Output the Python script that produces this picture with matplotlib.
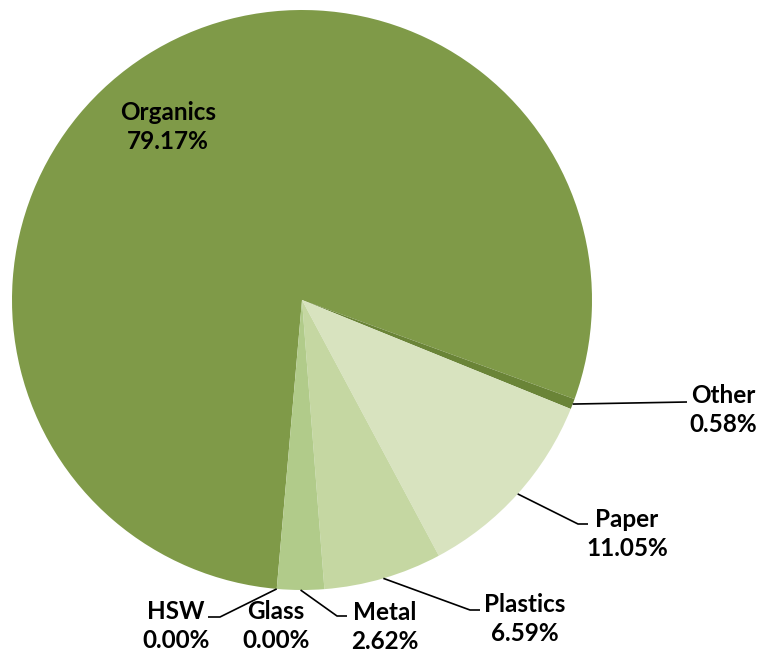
import numpy as np
import matplotlib
matplotlib.use("Agg")
import matplotlib.pyplot as plt

# waste composition by material, percent of total
materials = ["Organics", "Other", "Paper", "Plastics", "Metal", "Glass", "HSW"]
shares = [79.17, 0.58, 11.05, 6.59, 2.62, 0.00, 0.00]
colors = ["#7F9A48", "#6A8437", "#D8E3BF", "#C5D7A2", "#B1CB8A", "#A9C47F", "#9DBA72"]

W, H = 759, 655
CX, CY, R = 302, 300, 290
START = 185  # degrees clockwise from 12 o'clock where the first slice begins

# label centres and leader line bends, pixel coords from the top-left corner
label_pos = {
    "Organics": (168, 127),
    "Other": (723, 410),
    "Paper": (627, 534),
    "Plastics": (525, 619),
    "Metal": (385, 627),
    "Glass": (276, 626),
    "HSW": (176, 626),
}
leaders = {
    "Other": [(687, 402)],
    "Paper": [(578, 524), (588, 524)],
    "Plastics": [(470, 610), (480, 610)],
    "Metal": [(337, 616), (347, 616)],
    "HSW": [(220, 617), (208, 617)],
}


def px(x, y):
    return x, H - y


fig = plt.figure(figsize=(W / 100, H / 100), dpi=100)
ax = fig.add_axes([0, 0, 1, 1])

ax.pie(shares, colors=colors, startangle=90 - START, counterclock=False,
       center=px(CX, CY), radius=R,
       wedgeprops=dict(linewidth=0))
ax.set_xlim(0, W)
ax.set_ylim(0, H)
ax.set_aspect("equal")
ax.axis("off")

# slice midpoints, clockwise from the top
edges = START + np.concatenate([[0], np.cumsum(shares)]) / sum(shares) * 360
mids = (edges[:-1] + edges[1:]) / 2

for name, share, mid in zip(materials, shares, mids):
    if name in leaders:
        a = np.radians(mid)
        x0, y0 = CX + R * np.sin(a), CY - R * np.cos(a)
        pts = [(x0, y0)] + leaders[name]
        xs, ys = zip(*[px(x, y) for x, y in pts])
        ax.plot(xs, ys, color="black", lw=1.2, solid_capstyle="butt")
    tx, ty = px(*label_pos[name])
    ax.text(tx, ty, f"{name}\n{share:.2f}%", ha="center", va="center",
            multialignment="center", fontsize=17.5, fontweight="bold",
            family="Lato", linespacing=1.35, color="black")

fig.savefig("out.png", dpi=100)
